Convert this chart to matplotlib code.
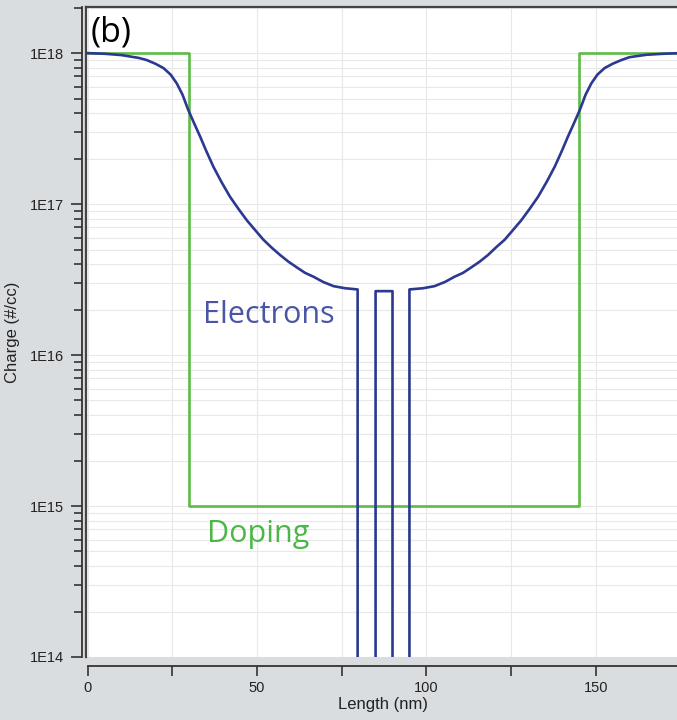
import numpy as np
import matplotlib.pyplot as plt
from matplotlib.ticker import FixedLocator, FuncFormatter, NullFormatter
from matplotlib.lines import Line2D

# doping profile (step)
dop_x = [0, 30, 30, 145, 145, 175]
dop_y = [1e18, 1e18, 1e15, 1e15, 1e18, 1e18]

# electron density, gaps drop below the axis
el_x = [0, 5, 10, 15, 17.4, 20, 22.4, 24.5, 26.3, 28, 29.7, 31.5, 33.2, 35, 37.1,
        39.5, 42, 44.5, 47, 49.5, 51.9, 54.3, 56.8, 59.3, 61.8, 64.2, 66.7, 69.5,
        72.6, 76, 79.7,
        79.7, 85, 85, 90, 90, 95, 95,
        99, 102.4, 105.5, 108.3, 110.8, 113.2, 115.7, 118.2, 120.7, 123.1, 125.5,
        128, 130.5, 133, 135.5, 137.9, 140, 141.8, 143.5, 145.3, 147, 148.7, 150.5,
        152.6, 155, 157.6, 160, 165, 170, 175]
el_y = [1.0e18, 0.99e18, 0.97e18, 0.93e18, 0.90e18, 0.85e18, 0.795e18, 0.72e18,
        0.63e18, 0.53e18, 0.42e18, 0.34e18, 0.28e18, 0.225e18, 1.77e17,
        1.40e17, 1.12e17, 9.3e16, 7.8e16, 6.7e16, 5.8e16, 5.15e16, 4.6e16, 4.15e16,
        3.8e16, 3.5e16, 3.3e16, 3.05e16, 2.86e16, 2.77e16, 2.72e16,
        1e13, 1e13, 2.65e16, 2.65e16, 1e13, 1e13, 2.72e16,
        2.77e16, 2.86e16, 3.05e16, 3.3e16, 3.5e16, 3.8e16, 4.15e16, 4.6e16, 5.2e16,
        5.8e16, 6.7e16, 7.8e16, 9.3e16, 1.12e17, 1.40e17, 1.77e17, 0.225e18,
        0.28e18, 0.34e18, 0.42e18, 0.53e18, 0.63e18, 0.72e18, 0.795e18, 0.85e18,
        0.90e18, 0.94e18, 0.975e18, 0.99e18, 1.0e18]

y_major = [1e14, 1e15, 1e16, 1e17, 1e18]
y_labels = ['1E14', '1E15', '1E16', '1E17', '1E18']
x_major = [0, 50, 100, 150]
x_minor = [25, 75, 125]

bg = '#dadde0'
spine_c = '#333333'

fig = plt.figure(figsize=(6.77, 7.2), dpi=100, facecolor=bg)
ax = fig.add_axes([86/677, 63/720, 591/677, 650/720])
ax.set_facecolor('white')

ax.set_yscale('log')
ax.set_xlim(-0.5, 174)
ax.set_ylim(1e14, 2.02e18)

# grid lines
minor_y = [m * 10.0**e for e in range(14, 19) for m in range(2, 10)]
for v in minor_y + y_major:
    ax.axhline(v, color='#e8e8e8', lw=0.8, zorder=0)
for v in x_major + x_minor:
    ax.axvline(v, color='#e8e8e8', lw=0.8, zorder=0)

ax.plot(dop_x, dop_y, color='#5dbb46', lw=1.9, zorder=2)
ax.plot(el_x, el_y, color='#2b3990', lw=1.9, zorder=3)

ax.text(0.198, 0.514, 'Electrons', transform=ax.transAxes, fontsize=22,
        color='#4a55a5', family='Open Sans', va='baseline', ha='left')
ax.text(0.204, 0.177, 'Doping', transform=ax.transAxes, fontsize=22,
        color='#4cb748', family='Open Sans', va='baseline', ha='left')
ax.text(0.008, 0.9615, '(b)', transform=ax.transAxes, fontsize=24.5,
        color='black', family='Open Sans', va='center', ha='left')

# spines: detached axis lines, frame drawn separately
for s in ['top', 'right']:
    ax.spines[s].set_visible(False)
ax.spines['left'].set_position(('outward', 3))
ax.spines['bottom'].set_position(('outward', 6.5))
ax.spines['bottom'].set_bounds(0, 174)
for s in ['left', 'bottom']:
    ax.spines[s].set_color(spine_c)
    ax.spines[s].set_linewidth(1.3)

ax.add_line(Line2D([0, 0], [0, 1], transform=ax.transAxes, color='#444444',
                   lw=1.6, clip_on=False, zorder=5))
ax.add_line(Line2D([0, 1], [1, 1], transform=ax.transAxes, color='#444444',
                   lw=1.6, clip_on=False, zorder=5))

ax.yaxis.set_major_locator(FixedLocator(y_major))
ax.yaxis.set_major_formatter(FuncFormatter(lambda v, p: y_labels[y_major.index(v)] if v in y_major else ''))
ax.yaxis.set_minor_locator(FixedLocator(minor_y))
ax.yaxis.set_minor_formatter(NullFormatter())
ax.xaxis.set_major_locator(FixedLocator(x_major))
ax.xaxis.set_minor_locator(FixedLocator(x_minor))

ax.tick_params(axis='y', which='major', length=8, width=1.2, color=spine_c,
               labelsize=10.5, labelcolor='#222222', pad=5)
ax.tick_params(axis='y', which='minor', length=5.5, width=1.2, color=spine_c)
ax.tick_params(axis='x', which='both', length=7, width=1.2, color=spine_c,
               labelsize=10.5, labelcolor='#222222', pad=4)
for lab in ax.get_xticklabels() + ax.get_yticklabels():
    lab.set_family('Liberation Sans')

ax.set_ylabel('Charge (#/cc)', fontsize=12, family='Liberation Sans', color='#222222')
ax.set_xlabel('Length (nm)', fontsize=12, family='Liberation Sans', color='#222222')
ax.xaxis.set_label_coords(0.502, -0.0623)
ax.yaxis.set_label_coords(-0.111, 0.5)

fig.savefig('out.png', dpi=100, facecolor=bg)
